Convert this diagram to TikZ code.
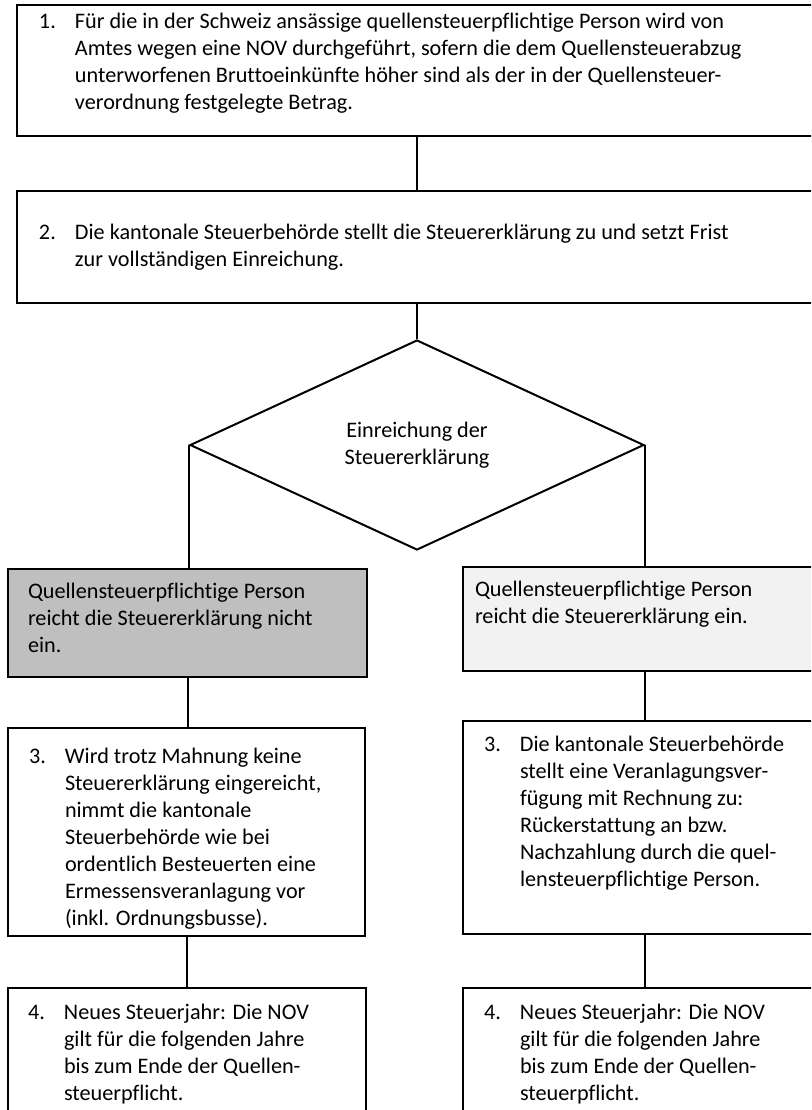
\documentclass[tikz,border=0pt]{standalone}
\usepackage{fontspec}
\setmainfont[Ligatures=NoCommon]{Carlito}
\usetikzlibrary{shapes.geometric}
\definecolor{boxgray}{RGB}{191,191,191}
\definecolor{boxlight}{RGB}{242,242,242}
\newcommand{\stepnum}[2]{\makebox[18pt][l]{#1}\begin{tabular}[t]{@{}l@{}}#2\end{tabular}}
\newcommand{\steplines}[1]{\begin{tabular}[t]{@{}l@{}}#1\end{tabular}}

\begin{document}
\begin{tikzpicture}[x=0.5pt, y=-0.5pt, line width=1pt,
    stepbox/.style={draw, rectangle, inner sep=0pt, anchor=north west},
    steptext/.style={inner sep=0pt, anchor=base west, font=\fontsize{11.1pt}{13.5pt}\selectfont},
    decision/.style={draw, diamond, inner sep=0pt, align=center, font=\fontsize{11.1pt}{13.5pt}\selectfont}]
    \useasboundingbox (0,0) rectangle (811,1110);
    \clip (0,0) rectangle (811,1110);

    % top part
    \node[stepbox, minimum width=412pt, minimum height=65.5pt] (b1) at (16,4) {};
    \node[stepbox, minimum width=412pt, minimum height=56pt] (b2) at (16,190) {};
    \node[decision, minimum width=227pt, minimum height=105pt] (dec) at (417,445) {Einreichung der\\Steuererklärung};

    \node[steptext] (t1) at (38,28) {\stepnum{1.}{Für die in der Schweiz ansässige quellensteuerpflichtige Person wird von\\
        Amtes wegen eine NOV durchgeführt, sofern die dem Quellensteuerabzug\\
        unterworfenen Bruttoeinkünfte höher sind als der in der Quellensteuer-\\
        verordnung festgelegte Betrag.}};
    \node[steptext] (t2) at (38,239) {\stepnum{2.}{Die kantonale Steuerbehörde stellt die Steuererklärung zu und setzt Frist\\
        zur vollständigen Einreichung.}};

    % left branch
    \node[stepbox, fill=boxgray, minimum width=179.5pt, minimum height=54pt] (gray) at (7,568) {};
    \node[stepbox, minimum width=178.5pt, minimum height=104pt] (s3l) at (7,727) {};
    \node[stepbox, minimum width=179pt, minimum height=71.5pt] (s4l) at (7,987) {};

    \node[steptext] (tgray) at (27,598) {\steplines{Quellensteuerpflichtige Person\\reicht die Steuererklärung nicht\\ein.}};
    \node[steptext] (t3l) at (28,763) {\stepnum{3.}{Wird trotz Mahnung keine\\Steuererklärung eingereicht,\\nimmt die kantonale\\
        Steuerbehörde wie bei\\ordentlich Besteuerten eine\\Ermessensveranlagung vor\\(inkl. Ordnungsbusse).}};
    \node[steptext] (t4l) at (27,1019) {\stepnum{4.}{Neues Steuerjahr: Die NOV\\gilt für die folgenden Jahre\\bis zum Ende der Quellen-\\steuerpflicht.}};

    % right branch
    \node[stepbox, fill=boxlight, minimum width=189pt, minimum height=52pt] (light) at (462,566) {};
    \node[stepbox, minimum width=189pt, minimum height=106.5pt] (s3r) at (462,720) {};
    \node[stepbox, minimum width=189pt, minimum height=71.5pt] (s4r) at (462,987) {};

    \node[steptext] (tlight) at (474,596) {\steplines{Quellensteuerpflichtige Person\\reicht die Steuererklärung ein.}};
    \node[steptext] (t3r) at (483,751) {\stepnum{3.}{Die kantonale Steuerbehörde\\stellt eine Veranlagungsver-\\fügung mit Rechnung zu:\\
        Rückerstattung an bzw.\\Nachzahlung durch die quel-\\lensteuerpflichtige Person.}};
    \node[steptext] (t4r) at (483,1019) {\stepnum{4.}{Neues Steuerjahr: Die NOV\\gilt für die folgenden Jahre\\bis zum Ende der Quellen-\\steuerpflicht.}};

    % connectors
    \draw (b1.south -| dec.north) -- (b2.north -| dec.north);
    \draw (b2.south -| dec.north) -- (dec.north);
    \draw (dec.west) -- (dec.west |- gray.north);
    \draw (dec.east) -- (dec.east |- light.north);
    \draw (gray.south) -- (gray.south |- s3l.north);
    \draw (light.south -| dec.east) -- (s3r.north -| dec.east);
    \draw (s3l.south) -- (s3l.south |- s4l.north);
    \draw (s3r.south -| dec.east) -- (s4r.north -| dec.east);
\end{tikzpicture}
\end{document}
